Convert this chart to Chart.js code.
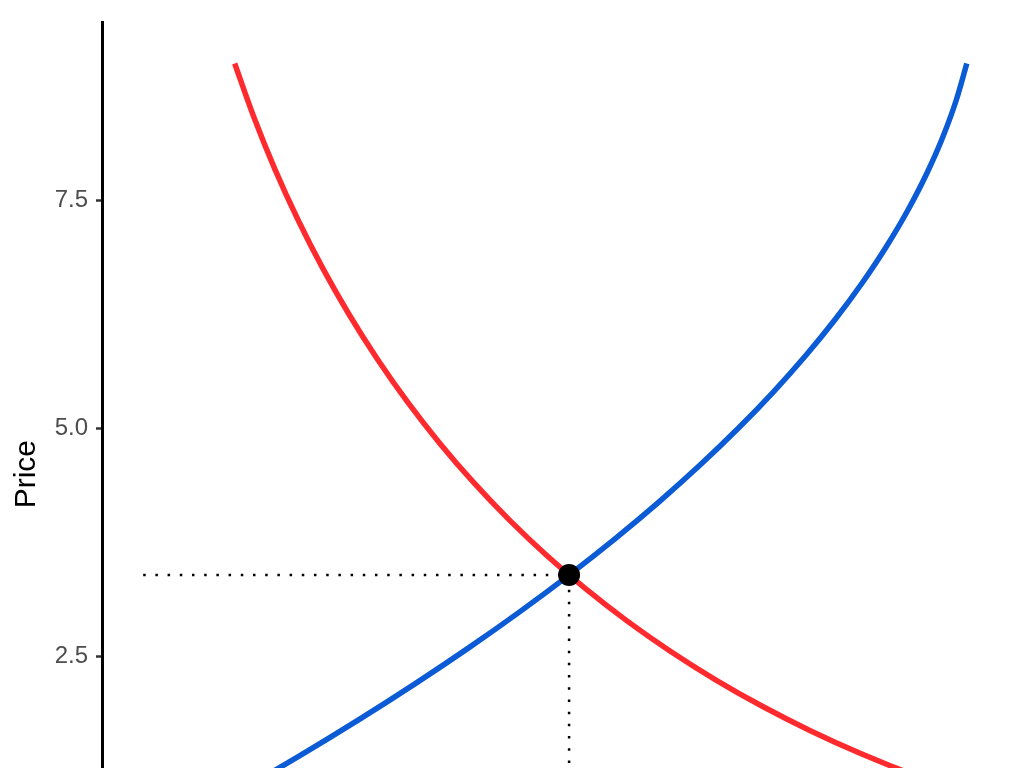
<!DOCTYPE html>
<html>
<head>
<meta charset="utf-8">
<script src="https://cdn.jsdelivr.net/npm/chart.js@4.4.1/dist/chart.umd.min.js"></script>
<style>
  html, body { margin: 0; padding: 0; background: #ffffff; overflow: hidden; width: 1024px; height: 768px; }
  #wrap { width: 1024px; height: 1000px; }
</style>
</head>
<body>
<div id="wrap"><canvas id="c" width="1024" height="1000"></canvas></div>
<script>
// Demand curve (red)
const demandX = [1.00, 1.21, 1.44, 1.69, 1.96, 2.25, 2.56, 2.89, 3.24, 3.61, 4.00, 4.41, 4.84, 5.29, 5.76, 6.25, 6.76, 7.29, 7.84, 8.41, 9.00];
const demandY = [9.00, 8.41, 7.84, 7.29, 6.76, 6.25, 5.76, 5.29, 4.84, 4.41, 4.00, 3.61, 3.24, 2.89, 2.56, 2.25, 1.96, 1.69, 1.44, 1.21, 1.00];
// Supply curve (blue)
const supplyX = [1.00, 1.685, 2.34, 2.965, 3.56, 4.125, 4.66, 5.165, 5.64, 6.085, 6.50, 6.885, 7.24, 7.565, 7.86, 8.125, 8.36, 8.565, 8.74, 8.885, 9.00];
const supplyY = [1.00, 1.40, 1.80, 2.20, 2.60, 3.00, 3.40, 3.80, 4.20, 4.60, 5.00, 5.40, 5.80, 6.20, 6.60, 7.00, 7.40, 7.80, 8.20, 8.60, 9.00];
// Equilibrium
const eqX = [4.654];
const eqY = [3.395];
// Axis
const yTicks = [0, 2.5, 5.0, 7.5];
const yTitle = 'Price';

function pts(xs, ys) { return xs.map((x, i) => ({ x: x, y: ys[i] })); }

const hLine = [{ x: 0, y: eqY[0] }, { x: eqX[0], y: eqY[0] }];
const vLine = [{ x: eqX[0], y: 0 }, { x: eqX[0], y: eqY[0] }];

new Chart(document.getElementById('c'), {
  type: 'scatter',
  data: {
    datasets: [
      {
        label: 'Equilibrium',
        data: pts(eqX, eqY),
        pointRadius: 11,
        pointBackgroundColor: '#000000',
        pointBorderWidth: 0,
        showLine: false,
        order: 0
      },
      {
        label: 'h',
        data: hLine,
        showLine: true,
        borderColor: '#000000',
        borderWidth: 2.5,
        borderDash: [2.5, 9.7],
        pointRadius: 0,
        order: 1
      },
      {
        label: 'v',
        data: vLine,
        showLine: true,
        borderColor: '#000000',
        borderWidth: 2.5,
        borderDash: [2.5, 9.7],
        pointRadius: 0,
        order: 1
      },
      {
        label: 'Demand',
        data: pts(demandX, demandY),
        showLine: true,
        borderColor: '#ff2a2e',
        borderWidth: 5.5,
        cubicInterpolationMode: 'monotone',
        pointRadius: 0,
        order: 2
      },
      {
        label: 'Supply',
        data: pts(supplyX, supplyY),
        showLine: true,
        borderColor: '#0b5bd6',
        borderWidth: 5.5,
        cubicInterpolationMode: 'monotone',
        pointRadius: 0,
        order: 2
      }
    ]
  },
  options: {
    responsive: false,
    animation: false,
    devicePixelRatio: 1,
    layout: { padding: { top: 19.4, right: 16, bottom: 74, left: 0 } },
    plugins: { legend: { display: false }, tooltip: { enabled: false } },
    scales: {
      x: {
        type: 'linear',
        display: false,
        min: -0.45,
        max: 9.45
      },
      y: {
        type: 'linear',
        min: -0.45,
        max: 9.45,
        afterBuildTicks: (scale) => { scale.ticks = yTicks.map(v => ({ value: v })); },
        afterFit: (scale) => { scale.width = 102; },
        border: { display: true, color: '#000000', width: 3 },
        grid: {
          display: true,
          drawOnChartArea: false,
          drawTicks: true,
          tickLength: 6,
          tickWidth: 2.5,
          tickColor: '#333333',
          color: '#333333'
        },
        ticks: {
          padding: 8,
          color: '#4d4d4d',
          font: { family: "'Liberation Sans', Arial, sans-serif", size: 24 },
          callback: (v) => Number(v).toFixed(1)
        },
        title: {
          display: true,
          text: yTitle,
          color: '#000000',
          padding: { top: 9, bottom: 0 },
          font: { family: "'Liberation Sans', Arial, sans-serif", size: 30 }
        }
      }
    }
  }
});
</script>
</body>
</html>
